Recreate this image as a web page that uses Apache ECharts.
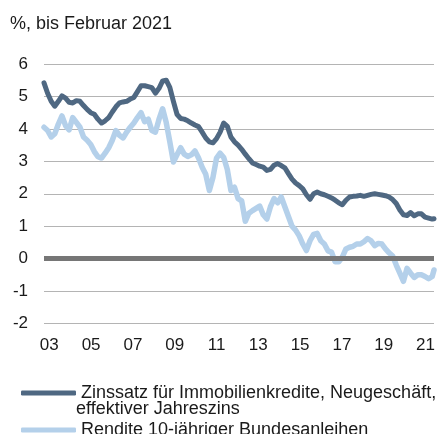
<!DOCTYPE html>
<html>
<head>
<meta charset="utf-8">
<script src="https://cdn.jsdelivr.net/npm/echarts@6/dist/echarts.min.js"></script>
<style>
  html, body { margin: 0; padding: 0; background: #fff; }
  #chart { width: 444px; height: 434px; }
</style>
</head>
<body>
<div id="chart"></div>
<script>
const titleText = '%, bis Februar 2021'
const seriesNames = [
  'Zinssatz für Immobilienkredite, Neugeschäft,\neffektiver Jahreszins',
  'Rendite 10-jähriger Bundesanleihen'
]
const tickYears = [2003, 2005, 2007, 2009, 2011, 2013, 2015, 2017, 2019, 2021]
const yearLabels = ['03', '05', '07', '09', '11', '13', '15', '17', '19', '21']

// Monate: Jan, Mär, Mai, Jul, Sep, Nov je Jahr, dazu Jan + Feb 2021
const dates = []
for (let y = 2003; y <= 2020; y++) {
  for (let m = 1; m <= 11; m += 2) dates.push(y + '-' + String(m).padStart(2, '0'))
}
dates.push('2021-01', '2021-02')

const zinsImmo = [
  5.42, 5.10, 4.85, 4.70, 4.85, 5.02,
  4.95, 4.82, 4.80, 4.87, 4.85, 4.72,
  4.60, 4.50, 4.45, 4.30, 4.18, 4.25,
  4.35, 4.52, 4.68, 4.80, 4.83, 4.85,
  4.92, 4.97, 5.15, 5.33, 5.33, 5.30,
  5.27, 5.10, 5.25, 5.48, 5.50, 5.28,
  4.85, 4.45, 4.32, 4.30, 4.25, 4.18,
  4.12, 4.07, 3.90, 3.72, 3.60, 3.57,
  3.70, 3.90, 4.18, 4.08, 3.75, 3.60,
  3.50, 3.37, 3.22, 3.08, 2.95, 2.90,
  2.85, 2.82, 2.72, 2.75, 2.88, 2.93,
  2.87, 2.80, 2.62, 2.45, 2.33, 2.25,
  2.15, 1.97, 1.83, 2.00, 2.05, 2.00,
  1.97, 1.92, 1.87, 1.80, 1.72, 1.66,
  1.80, 1.90, 1.92, 1.93, 1.95, 1.92,
  1.95, 1.98, 2.00, 1.98, 1.96, 1.94,
  1.90, 1.82, 1.70, 1.50, 1.35, 1.33,
  1.42, 1.32, 1.38, 1.38, 1.28, 1.25,
  1.22, 1.23
]
const renditeBund = [
  4.05, 3.95, 3.75, 3.85, 4.15, 4.40,
  4.10, 3.97, 4.35, 4.20, 4.05, 3.75,
  3.65, 3.52, 3.30, 3.14, 3.10, 3.25,
  3.42, 3.65, 3.95, 3.80, 3.72, 3.90,
  4.05, 4.18, 4.35, 4.50, 4.22, 4.30,
  3.95, 3.90, 4.30, 4.62, 4.20, 3.60,
  2.98, 3.20, 3.42, 3.22, 3.15, 3.20,
  3.32, 3.10, 2.82, 2.60, 2.10, 2.50,
  3.10, 3.25, 3.12, 2.75, 2.10, 2.20,
  1.85, 1.78, 1.15, 1.40, 1.48, 1.55,
  1.62, 1.35, 1.22, 1.60, 1.85, 1.72,
  1.90, 1.60, 1.30, 1.00, 0.88, 0.70,
  0.45, 0.25, 0.55, 0.75, 0.78, 0.55,
  0.45, 0.24, 0.20, -0.10, -0.10, 0.05,
  0.30, 0.35, 0.38, 0.45, 0.45, 0.52,
  0.62, 0.55, 0.40, 0.47, 0.45, 0.30,
  0.18, 0.08, -0.20, -0.45, -0.70, -0.30,
  -0.45, -0.58, -0.50, -0.50, -0.55, -0.62,
  -0.55, -0.35
]

const colors = ['#4f6882', '#b4d0ea']
const textColor = '#1a1a1a'
const fontFamily = 'Arial'
const nameLines = seriesNames[0].split('\n')

// Monatsindex ab Jan 2003
const monthIndex = d => (parseInt(d.slice(0, 4), 10) - 2003) * 12 + parseInt(d.slice(5, 7), 10) - 1
const toPairs = vals => dates.map((d, i) => [monthIndex(d), vals[i]])
// Jahresbeschriftung sitzt im Original etwas versetzt
const labelPos = y => 2.95 + (y - 2003) * 11.63

const legendBase = {
  orient: 'vertical',
  left: 16,
  icon: 'roundRect',
  itemWidth: 55,
  itemHeight: 5,
  itemGap: 0,
  selectedMode: false,
  textStyle: { fontFamily, fontSize: 18, lineHeight: 22, color: textColor }
}

const chart = echarts.init(document.getElementById('chart'))

chart.setOption({
  backgroundColor: '#fff',
  animation: false,
  color: colors,
  title: [
    {
      text: titleText,
      left: 5,
      top: 10,
      textStyle: { fontFamily, fontSize: 18, fontWeight: 'normal', color: textColor }
    },
    {
      // zweite Zeile des ersten Legendeneintrags
      text: nameLines[1],
      left: 76,
      top: 398,
      padding: 0,
      textStyle: { fontFamily, fontSize: 18, lineHeight: 22, fontWeight: 'normal', color: textColor }
    }
  ],
  legend: [
    Object.assign({}, legendBase, { top: 377, data: [seriesNames[0]], formatter: () => nameLines[0] }),
    Object.assign({}, legendBase, { top: 414, data: [seriesNames[1]] })
  ],
  grid: { left: 44, right: 10, top: 64, bottom: 110.5 },
  xAxis: {
    type: 'value',
    min: 0,
    max: monthIndex('2021-02'),
    axisLine: { show: false },
    axisTick: { show: false },
    splitLine: { show: false },
    axisLabel: {
      customValues: tickYears.map(labelPos),
      margin: 13,
      fontFamily,
      fontSize: 17,
      color: textColor,
      formatter: v => {
        const i = tickYears.findIndex(y => Math.abs(labelPos(y) - v) < 0.5)
        return i >= 0 ? yearLabels[i] : ''
      }
    }
  },
  yAxis: {
    type: 'value',
    min: -2,
    max: 6,
    interval: 1,
    axisLine: { show: false },
    axisTick: { show: false },
    axisLabel: { margin: 16, fontFamily, fontSize: 17, color: textColor },
    splitLine: { lineStyle: { color: '#b4b4b4', width: 1 } }
  },
  series: [
    {
      // Nulllinie
      type: 'line',
      data: [],
      z: 1,
      silent: true,
      markLine: {
        silent: true,
        symbol: 'none',
        label: { show: false },
        lineStyle: { color: '#767676', width: 5, type: 'solid' },
        data: [{ yAxis: 0 }]
      }
    },
    {
      name: seriesNames[1],
      type: 'line',
      data: toPairs(renditeBund),
      showSymbol: false,
      z: 3,
      itemStyle: { color: colors[1] },
      lineStyle: { color: colors[1], width: 5.5, cap: 'round', join: 'round' }
    },
    {
      name: seriesNames[0],
      type: 'line',
      data: toPairs(zinsImmo),
      showSymbol: false,
      z: 4,
      itemStyle: { color: colors[0] },
      lineStyle: { color: colors[0], width: 5, cap: 'round', join: 'round' }
    }
  ]
})
</script>
</body>
</html>
